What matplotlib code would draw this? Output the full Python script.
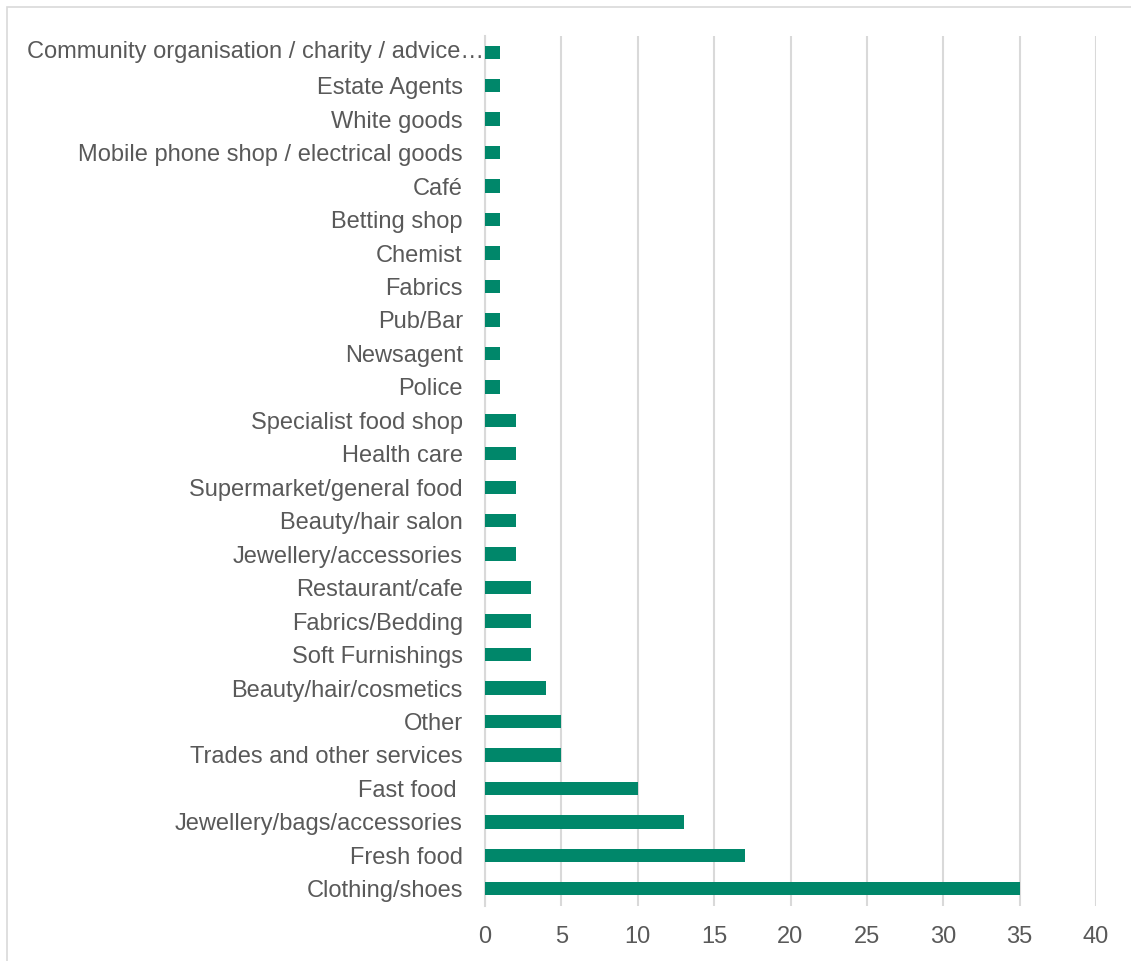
import matplotlib
matplotlib.use('Agg')
import matplotlib.pyplot as plt
from matplotlib.patches import Rectangle

# Data, listed bottom to top as drawn
categories = ['Clothing/shoes', 'Fresh food', 'Jewellery/bags/accessories', 'Fast food ',
              'Trades and other services', 'Other', 'Beauty/hair/cosmetics', 'Soft Furnishings',
              'Fabrics/Bedding', 'Restaurant/cafe', 'Jewellery/accessories', 'Beauty/hair salon',
              'Supermarket/general food', 'Health care', 'Specialist food shop', 'Police',
              'Newsagent', 'Pub/Bar', 'Fabrics', 'Chemist', 'Betting shop', 'Café',
              'Mobile phone shop / electrical goods', 'White goods', 'Estate Agents',
              'Community organisation / charity / advice…']
values = [35, 17, 13, 10, 5, 5, 4, 3, 3, 3, 2, 2, 2, 2, 2, 1, 1, 1, 1, 1, 1, 1, 1, 1, 1, 1]
xticks = [0, 5, 10, 15, 20, 25, 30, 35, 40]

plt.rcParams['font.family'] = ['Liberation Sans', 'DejaVu Sans']
txt = '#595959'
grid = '#D9D9D9'
fs = 17

fig = plt.figure(figsize=(11.31, 9.61), dpi=100)
ax = fig.add_axes([485/1131, 1-905.5/961, 611/1131, 870/961])

pos = list(range(len(categories)))
ax.barh(pos, values, height=0.4, color='#00876A', zorder=3)

ax.set_xlim(0, 40)
ax.set_ylim(-0.5, len(categories)-0.5)
ax.set_xticks(xticks)
ax.set_xticklabels([str(t) for t in xticks])
ax.set_yticks(pos)
labels = list(categories)
labels[-1] = ''
ax.set_yticklabels(labels)
# long label sits closer to the axis in the original
ax.text(-0.07, pos[-1], categories[-1], ha='right', va='center', fontsize=fs, color=txt)

ax.tick_params(axis='both', length=0, labelsize=fs, labelcolor=txt)
ax.tick_params(axis='y', pad=16)
ax.tick_params(axis='x', pad=15)
ax.grid(axis='x', color=grid, linewidth=1.5, zorder=0)
for s in ['top', 'right', 'bottom']:
    ax.spines[s].set_visible(False)
ax.spines['left'].set_color(grid)
ax.spines['left'].set_linewidth(1.5)

# chart area border (cut off on right and bottom)
fig.patches.append(Rectangle((7/1131, -0.1), 2, 1 - 7/961 + 0.1, transform=fig.transFigure,
                             fill=False, ec=grid, lw=1.2))

plt.savefig('out.png', dpi=100)
